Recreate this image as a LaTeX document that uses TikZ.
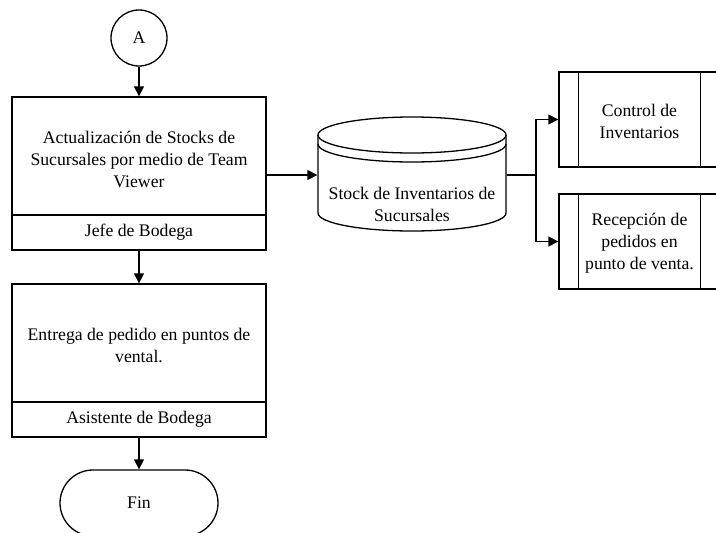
\documentclass[tikz,border=0pt]{standalone}
\usepackage{fontspec}
\setmainfont{Liberation Serif}
\usetikzlibrary{arrows.meta}
\begin{document}
\begin{tikzpicture}[x=1pt,y=-1pt, line width=1.3pt,
  box/.style={draw, minimum width=254pt, minimum height=153pt, inner sep=0pt},
  txt/.style={font=\fontsize{17.7}{22}\selectfont, align=center, inner sep=0pt},
  arr/.style={-{Triangle[length=10pt,width=10pt]}},
  pbox/.style={draw, minimum width=161pt, minimum height=95pt, inner sep=0pt}]
\useasboundingbox (0,0) rectangle (716,533);
\clip (0,0) rectangle (716,533);

% start connector
\node[draw, circle, minimum size=56pt, txt] (A) at (139,38) {A};

% process 1
\node[box] (b1) at (139,173.5) {};
\draw (b1.west |- 0,215) -- (b1.east |- 0,215);
\node[txt] (t1) at (139,159) {Actualización de Stocks de\\Sucursales por medio de Team\\Viewer};
\node[txt] (r1) at (139,232.5) {Jefe de Bodega};

% process 2
\node[box] (b2) at (139,360.5) {};
\draw (b2.west |- 0,402) -- (b2.east |- 0,402);
\node[txt] (t2) at (139,345) {Entrega de pedido en puntos de\\vental.};
\node[txt] (r2) at (139,419.5) {Asistente de Bodega};

% end terminal
\node[draw, rounded corners=33pt, minimum width=158pt, minimum height=66pt, txt] (fin) at (139,503) {Fin};

% data store cylinder
\node[minimum width=188pt, minimum height=78pt, inner sep=0pt] (cyl) at (412,175) {};
\filldraw[fill=white] (318,135) -- (318,213) arc[start angle=180, end angle=360, x radius=94pt, y radius=18pt] -- (506,135);
\draw (412,135) ellipse[x radius=94pt, y radius=18pt];
\draw (318,144) arc[start angle=180, end angle=360, x radius=94pt, y radius=18pt];
\node[txt] (ct) at (412,204) {Stock de Inventarios de\\Sucursales};

% predefined processes
\node[pbox] (p1) at (639.5,119.5) {};
\draw ([xshift=20pt]p1.north west) -- ([xshift=20pt]p1.south west);
\draw ([xshift=-20pt]p1.north east) -- ([xshift=-20pt]p1.south east);
\node[txt] (pt1) at (639.5,121) {Control de\\Inventarios};

\node[pbox] (p2) at (639.5,241.5) {};
\draw ([xshift=20pt]p2.north west) -- ([xshift=20pt]p2.south west);
\draw ([xshift=-20pt]p2.north east) -- ([xshift=-20pt]p2.south east);
\node[txt] (pt2) at (639.5,243.5) {Recepción de\\pedidos en\\punto de venta.};

% connectors
\draw[arr] (A) -- (b1);
\draw[arr] (b1) -- (b2);
\draw[arr] (b2) -- (fin);
\draw[arr] (b1.east |- cyl.west) -- (cyl.west);
\coordinate (br) at (536,175);
\draw (cyl.east) -- (br);
\draw[arr] (br) |- (p1.west);
\draw[arr] (br) |- (p2.west);
\end{tikzpicture}
\end{document}
